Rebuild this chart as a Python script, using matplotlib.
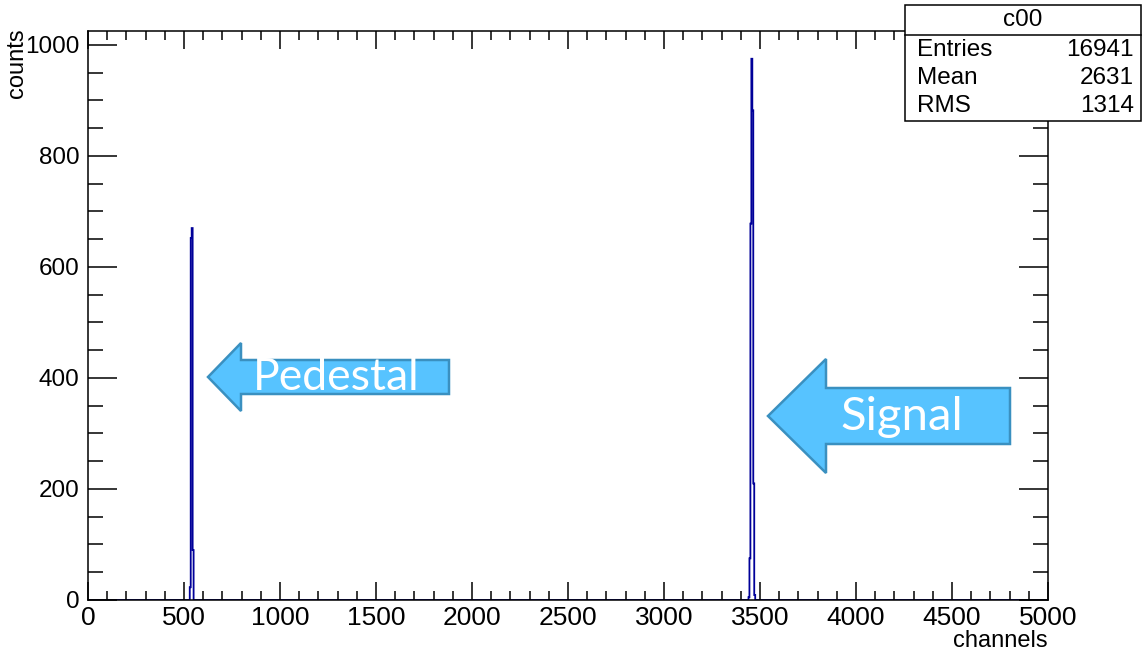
import numpy as np
import matplotlib
matplotlib.use("Agg")
import matplotlib.pyplot as plt
from matplotlib.patches import Polygon, Rectangle
from matplotlib.ticker import MultipleLocator

# histogram content (5-channel bins, only non-empty bins listed)
bin_width = 5
pedestal_start = 530
pedestal_counts = [23, 652, 670, 90]
signal_start = 3440
signal_counts = [5, 75, 678, 975, 882, 210, 9]

stats_title = "c00"
stats_names = ["Entries", "Mean", "RMS"]
stats_values = ["16941", "2631", "1314"]

W, H = 1143, 653
BLUE = "#000099"
ARROW_FILL = "#57c3ff"
ARROW_EDGE = "#3a90c0"

plt.rcParams['font.family'] = ['Liberation Sans', 'DejaVu Sans']

edges = np.arange(0, 5000 + bin_width, bin_width)
counts = np.zeros(len(edges) - 1)
i0 = pedestal_start // bin_width
counts[i0:i0 + len(pedestal_counts)] = pedestal_counts
i1 = signal_start // bin_width
counts[i1:i1 + len(signal_counts)] = signal_counts

fig = plt.figure(figsize=(W / 100, H / 100), dpi=100)
ax = fig.add_axes([88 / W, 1 - 600 / H, 960 / W, 569 / H])

ax.stairs(counts, edges, color=BLUE, linewidth=1.3)

ax.set_xlim(0, 5000)
ax.set_ylim(0, 1025)
ax.xaxis.set_major_locator(MultipleLocator(500))
ax.xaxis.set_minor_locator(MultipleLocator(100))
ax.yaxis.set_major_locator(MultipleLocator(200))
ax.yaxis.set_minor_locator(MultipleLocator(50))
ax.tick_params(which='both', direction='in', top=True, right=True, width=1.1,
               color='black')
ax.tick_params(axis='x', which='major', length=13, pad=4, labelsize=19)
ax.tick_params(axis='x', which='minor', length=6.5)
ax.tick_params(axis='y', which='major', length=21, pad=6, labelsize=17.5)
ax.tick_params(axis='y', which='minor', length=11)
for s in ax.spines.values():
    s.set_linewidth(1.1)

fig.text(1048 / W, 1 - 641 / H, "channels", ha='right', va='center', fontsize=17)
fig.text(17 / W, 1 - 28 / H, "counts", ha='center', va='top', rotation=90, fontsize=17)


def px(x, y):
    return (x / W, 1 - y / H)


# stats box
box = Rectangle(px(905, 121), (1141 - 905) / W, (121 - 5) / H, transform=fig.transFigure,
                facecolor='white', edgecolor='black', linewidth=1.1, zorder=5)
fig.patches.append(box)
fig.lines.append(plt.Line2D([905 / W, 1141 / W], [1 - 35 / H] * 2, transform=fig.transFigure,
                            color='black', linewidth=1.1, zorder=6))
fig.text(*px(1023, 20), stats_title, ha='center', va='center', fontsize=17.5, zorder=7)
for k, (name, val) in enumerate(zip(stats_names, stats_values)):
    yy = 50 + 28 * k
    fig.text(*px(917, yy), name, ha='left', va='center', fontsize=17.5, zorder=7)
    fig.text(*px(1134, yy), val, ha='right', va='center', fontsize=17.5, zorder=7)


# arrows (figure pixel coordinates)
def arrow(tip_x, tip_y, head_x, head_half, body_half, tail_x, label, text_x, fs):
    pts = [(tip_x, tip_y), (head_x, tip_y - head_half), (head_x, tip_y - body_half),
           (tail_x, tip_y - body_half), (tail_x, tip_y + body_half), (head_x, tip_y + body_half),
           (head_x, tip_y + head_half)]
    poly = Polygon([px(x, y) for x, y in pts], closed=True, transform=fig.transFigure,
                   facecolor=ARROW_FILL, edgecolor=ARROW_EDGE, linewidth=1.8, zorder=4)
    fig.patches.append(poly)
    fig.text(*px(text_x, tip_y + 1), label, ha='center', va='center',
             color='white', fontsize=fs, family=['Lato', 'DejaVu Sans'], zorder=5)


arrow(208, 377, 241, 34, 17, 449, "Pedestal", 336, 32)
arrow(768, 416, 826, 57, 28, 1010, "Signal", 902, 34)

fig.savefig("out.png", dpi=100)
